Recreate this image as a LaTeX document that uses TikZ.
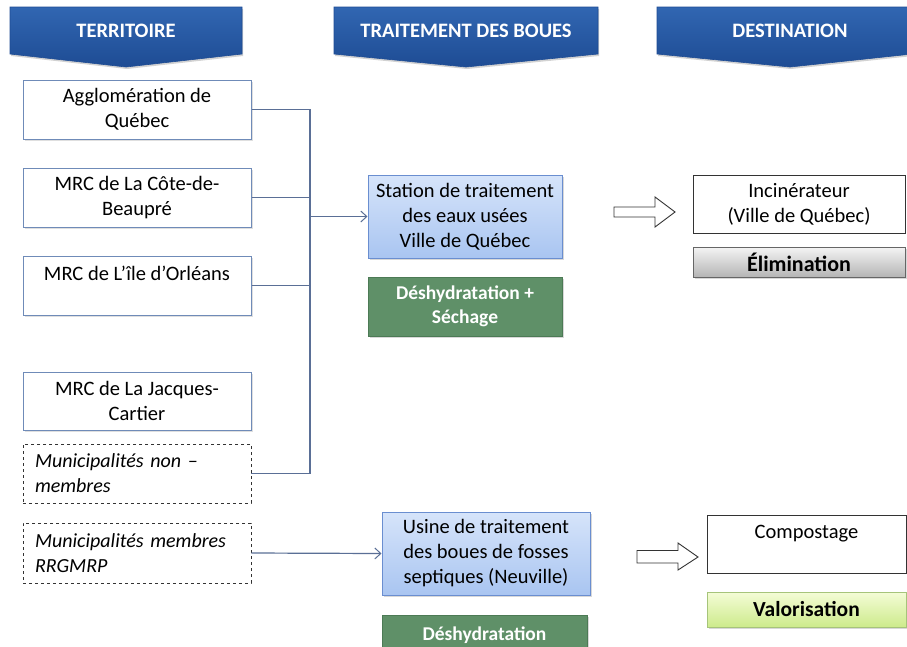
\documentclass[tikz,border=0pt]{standalone}
\usepackage{fontspec}
\setmainfont{Carlito}
\usetikzlibrary{arrows.meta,shadows}
\definecolor{bannerA}{HTML}{3166B2}
\definecolor{bannerB}{HTML}{1E4C94}
\definecolor{linec}{HTML}{5A6F96}
\definecolor{boxb}{HTML}{6F8BB8}
\definecolor{stA}{HTML}{D6E4FA}
\definecolor{stB}{HTML}{A9C5F1}
\definecolor{stBorder}{HTML}{6A8ED0}
\definecolor{greenf}{HTML}{5F9068}
\definecolor{greenb}{HTML}{4C7A55}
\definecolor{grayA}{HTML}{F4F4F4}
\definecolor{grayB}{HTML}{B5B5B5}
\definecolor{valA}{HTML}{F4FCD6}
\definecolor{valB}{HTML}{CDEB8C}
\definecolor{valBorder}{HTML}{A6C47A}
\tikzset{
  fs/.style={font=\fontsize{20.5}{25}\selectfont},
  fsb/.style={font=\fontsize{19.5}{24}\selectfont\bfseries},
  terr/.style={draw=boxb, line width=1pt, fill=white, fs, align=center, inner sep=2pt,
    minimum width=228pt, drop shadow={shadow xshift=1.5pt, shadow yshift=-1.5pt, opacity=0.25}},
  dashbox/.style={draw=black!80, dashed, line width=0.8pt, fill=white,
    font=\fontsize{20}{25}\selectfont\itshape, align=left, text width=204pt, inner sep=6pt,
    minimum width=228pt},
  trait/.style={draw=stBorder, line width=1pt, top color=stA, bottom color=stB, fs, align=center,
    inner sep=2pt, drop shadow={shadow xshift=1.5pt, shadow yshift=-1.5pt, opacity=0.3}},
  greenbox/.style={draw=greenb, line width=0.8pt, fill=greenf, text=white, fsb, align=center,
    inner sep=2pt, drop shadow={shadow xshift=1.5pt, shadow yshift=-1.5pt, opacity=0.3}},
  destbox/.style={draw=black!80, line width=0.9pt, fill=white, fs, align=center, inner sep=2pt},
  elimbox/.style={draw=black!60, line width=0.9pt, top color=grayA, bottom color=grayB,
    font=\fontsize{22}{26}\selectfont\bfseries,
    align=center, inner sep=2pt, drop shadow={shadow xshift=1.5pt, shadow yshift=-1.5pt, opacity=0.3}},
  valobox/.style={draw=valBorder, line width=0.9pt, top color=valA, bottom color=valB,
    font=\fontsize{21.5}{26}\selectfont\bfseries,
    align=center, inner sep=2pt, drop shadow={shadow xshift=1.5pt, shadow yshift=-1.5pt, opacity=0.3}},
  banner/.style={top color=bannerA, bottom color=bannerB, draw=bannerB, line width=0.6pt,
    drop shadow={shadow xshift=1pt, shadow yshift=-2pt, opacity=0.35}},
  bannertext/.style={text=white, font=\fontsize{20.5}{24}\selectfont\bfseries},
  conn/.style={draw=linec, line width=1.2pt},
  arr/.style={conn, -{Straight Barb[length=6pt, width=11pt, line width=1pt]}},
  blockarrow/.style={draw=black!80, fill=white, line width=0.9pt, line join=miter}
}
\begin{document}
\begin{tikzpicture}[x=1pt,y=-1pt]
\clip (0,0) rectangle (907,646);
\fill[white] (0,0) rectangle (907,646);

% banners
\path[banner] (10,7) -- (242,7) -- (242,54) -- (126,67) -- (10,54) -- cycle;
\node[bannertext] (bTerr) at (126,31) {TERRITOIRE};
\path[banner] (334,7) -- (598,7) -- (598,54) -- (466,67) -- (334,54) -- cycle;
\node[bannertext] (bTrait) at (466,31) {TRAITEMENT DES BOUES};
\path[banner] (657,7) -- (912,7) -- (912,54) -- (790,67) -- (657,54) -- cycle;
\node[bannertext] (bDest) at (790,31) {DESTINATION};

% territoire
\node[terr, minimum height=59pt] (agg) at (137,109.5) {Agglomération de\\Québec};
\node[terr, minimum height=59pt] (cote) at (137,197.5) {MRC de La Côte-de-\\Beaupré};
\node[terr, minimum height=59pt] (ile) at (137,285.5) {MRC de L’île d’Orléans\\\mbox{}};
\node[terr, minimum height=58pt] (jc) at (137,401) {MRC de La Jacques-\\Cartier};
\node[dashbox, minimum height=59pt] (nonm) at (137,473.5) {Municipalités non –\\membres};
\node[dashbox, minimum height=60pt] (rrg) at (137,553) {Municipalités membres\\RRGMRP};

% traitement
\node[trait, minimum width=194pt, minimum height=83pt] (station) at (465,216.5)
  {Station de traitement\\des eaux usées\\Ville de Québec};
\node[greenbox, minimum width=194pt, minimum height=59pt] (deshA) at (465,306.5)
  {Déshydratation +\\Séchage};
\node[trait, minimum width=208pt, minimum height=83pt] (usine) at (486,553.5)
  {Usine de traitement\\des boues de fosses\\septiques (Neuville)};
\node[greenbox, minimum width=205pt, minimum height=40pt, anchor=north] (deshB) at (484.5,615)
  {Déshydratation};

% destination
\node[destbox, minimum width=212pt, minimum height=58pt] (inc) at (799,204)
  {Incinérateur\\(Ville de Québec)};
\node[elimbox, minimum width=212pt, minimum height=30pt] (elim) at (799,262) {Élimination};
\node[destbox, minimum width=199pt, minimum height=58pt] (comp) at (806.5,544)
  {Compostage\\\mbox{}};
\node[valobox, minimum width=199pt, minimum height=35pt] (valo) at (806.5,609.5) {Valorisation};

% connectors
\coordinate (trunk) at (310,216.5);
\draw[conn] (agg.east) -- (agg.east -| trunk) -- (nonm.east -| trunk) -- (nonm.east);
\draw[conn] (cote.east) -- (cote.east -| trunk);
\draw[conn] (ile.east) -- (ile.east -| trunk);
\draw[arr] (trunk) -- (station.west);
\draw[arr] (rrg.east) -- (usine.west);

% block arrows
\draw[blockarrow] (614,207) -- (655,207) -- (655,197) -- (675,212) -- (655,227) -- (655,217) -- (614,217) -- cycle;
\draw[blockarrow] (637,550.5) -- (678,550.5) -- (678,543) -- (698,557) -- (678,570) -- (678,563) -- (637,563) -- cycle;
\end{tikzpicture}
\end{document}
